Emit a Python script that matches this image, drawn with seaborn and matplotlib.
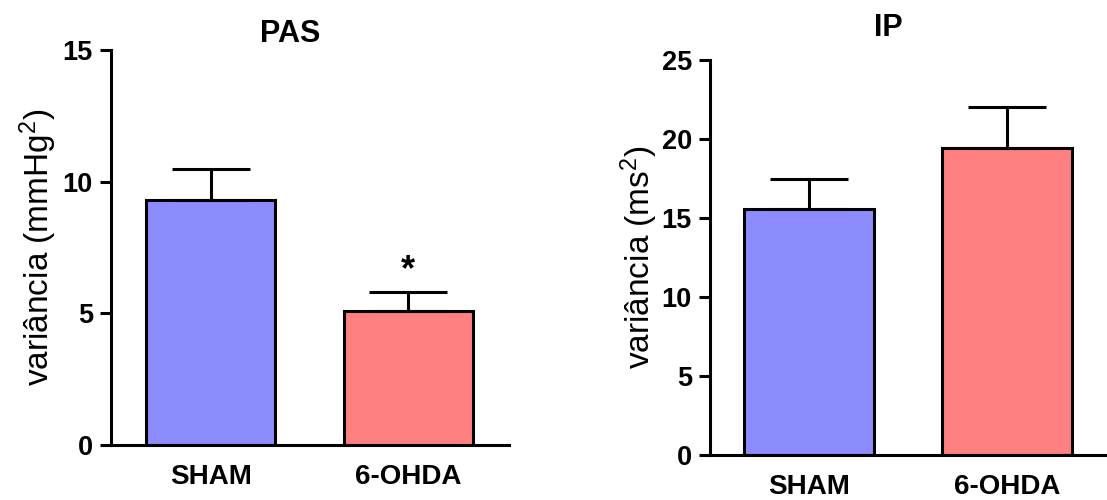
import numpy as np
import pandas as pd
import matplotlib
matplotlib.use("Agg")
import matplotlib.pyplot as plt
import seaborn as sns

categories = ["SHAM", "6-OHDA"]
pas_mean = [9.3, 5.1]
pas_sem = [1.2, 0.7]
ip_mean = [15.6, 19.4]
ip_sem = [1.85, 2.6]
bar_colors = ["#8C8CFF", "#FF8080"]

sns.set_theme(style="white")
plt.rcParams["font.family"] = ["Liberation Sans", "DejaVu Sans"]
plt.rcParams["mathtext.fontset"] = "custom"
plt.rcParams["mathtext.rm"] = "Liberation Sans"
plt.rcParams["mathtext.it"] = "Liberation Sans:italic"
plt.rcParams["mathtext.bf"] = "Liberation Sans:bold"
plt.rcParams["text.color"] = "black"
plt.rcParams["axes.labelcolor"] = "black"
plt.rcParams["xtick.color"] = "black"
plt.rcParams["ytick.color"] = "black"

fig = plt.figure(figsize=(11.07, 5.0), dpi=100)
ax1 = fig.add_axes([111 / 1107, 55 / 500, 398 / 1107, 395 / 500])
ax2 = fig.add_axes([710 / 1107, 45 / 500, 397 / 1107, 395 / 500])

def draw(ax, mean, sem, ymax, yticks, ylabel, title, title_y, xlim, labelpad):
    df = pd.DataFrame({"grupo": categories, "valor": mean})
    sns.barplot(data=df, x="grupo", y="valor", hue="grupo", palette=bar_colors,
                width=0.655, edgecolor="black", linewidth=2.2, errorbar=None,
                legend=False, ax=ax, saturation=1)
    ax.errorbar(range(len(categories)), mean, yerr=[np.zeros(len(sem)), sem],
                fmt="none", ecolor="black", elinewidth=2.2, capsize=28,
                capthick=2.2, zorder=5)
    ax.set_ylim(0, ymax)
    ax.set_xlim(*xlim)
    ax.set_yticks(yticks)
    ax.set_yticklabels([str(t) for t in yticks], fontsize=19.5, fontweight="bold",
                       color="black")
    ax.set_xticks(range(len(categories)))
    ax.set_xticklabels(categories, fontsize=20, fontweight="bold", color="black")
    ax.tick_params(axis="y", length=8, width=2.2, pad=5, left=True, color="black")
    ax.tick_params(axis="x", length=0, pad=14)
    ax.set_xlabel("")
    ax.set_ylabel(ylabel, fontsize=24, labelpad=labelpad, color="black")
    for s in ["top", "right"]:
        ax.spines[s].set_visible(False)
    for s in ["left", "bottom"]:
        ax.spines[s].set_color("black")
        ax.spines[s].set_linewidth(2.2)
    ax.text(0.45, title_y, title, transform=ax.transAxes, ha="center",
            va="baseline", fontsize=22, fontweight="bold", color="black")

draw(ax1, pas_mean, pas_sem, 15, [0, 5, 10, 15], "variância (mmHg$^{2}$)", "PAS", 1.02,
     (-0.505, 1.51), 3)
draw(ax2, ip_mean, ip_sem, 25, [0, 5, 10, 15, 20, 25], "variância (ms$^{2}$)", "IP", 1.06,
     (-0.5, 1.505), 1)

ax1.text(1, pas_mean[1] + pas_sem[1] + 0.15, "*", ha="center", va="bottom",
         fontsize=26, fontweight="bold", color="black")

fig.savefig("out.png", dpi=100)
